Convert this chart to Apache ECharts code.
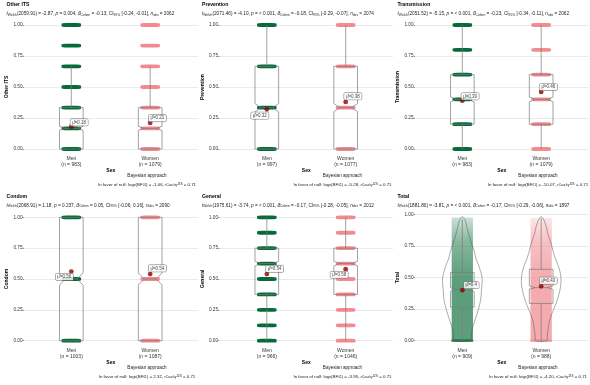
<!DOCTYPE html>
<html>
<head>
<meta charset="UTF-8">
<title>ggbetweenstats - Sex</title>
<script src="https://cdn.jsdelivr.net/npm/echarts@6/dist/echarts.min.js"></script>
<style>
html,body{margin:0;padding:0;background:#fff}
#main{width:590px;height:385px}
</style>
</head>
<body>
<div id="main"></div>
<script>
// ---- data ----
var panelNames = ['Other ITS', 'Prevention', 'Transmission', 'Condom', 'General', 'Total'];
var groups = ['Men', 'Women'];
var groupN = [[983, 1079], [997, 1077], [983, 1079], [1003, 1087], [966, 1046], [909, 988]];
var meanVals = [[0.18, 0.21], [0.32, 0.38], [0.39, 0.46], [0.56, 0.54], [0.54, 0.58], [0.4, 0.43]];
// [lower whisker, q1, median, q3, upper whisker]
var boxMen = [[0, 0, 1/6, 1/3, 2/3], [0, 0, 1/3, 2/3, 1], [0, 0.2, 0.4, 0.6, 1], [0, 0, 0.5, 1, 1], [0, 0.375, 0.625, 0.75, 1], [0, 0.265, 0.405, 0.54, 0.96]];
var boxWomen = [[0, 0, 1/6, 1/3, 2/3], [0, 0, 1/3, 2/3, 1], [0, 0.2, 0.4, 0.6, 1], [0, 0, 0.5, 1, 1], [0, 0.375, 0.625, 0.75, 1], [0, 0.295, 0.42, 0.565, 0.97]];
// answer levels where the jittered points pile up
var levelsOtherITS = [0, 1/6, 1/3, 1/2, 2/3, 5/6, 1];
var levelsPrevention = [0, 1/3, 2/3, 1];
var levelsTransmission = [0, 0.2, 0.4, 0.6, 0.8, 1];
var levelsCondom = [0, 0.5, 1];
var levelsGeneral = [0, 0.125, 0.25, 0.375, 0.5, 0.625, 0.75, 0.875, 1];
var levelsTotal = [0];
var panelLevels = [levelsOtherITS, levelsPrevention, levelsTransmission, levelsCondom, levelsGeneral, levelsTotal];
// Total: continuous cloud of points [low, high] per group
var totalCloud = [[0, 0.975], [0, 0.97]];
// Total: violin density (relative), at these y values
var violinY = [0, 0.05, 0.1, 0.15, 0.2, 0.25, 0.3, 0.35, 0.4, 0.45, 0.5, 0.55, 0.6, 0.65, 0.7, 0.75, 0.8, 0.85, 0.9, 0.95, 0.98];
var violinMen = [0.41, 0.46, 0.51, 0.62, 0.72, 0.82, 0.9, 0.95, 0.97, 1, 1, 0.92, 0.82, 0.69, 0.62, 0.51, 0.41, 0.31, 0.23, 0.15, 0.03];
var violinWomen = [0.28, 0.31, 0.36, 0.41, 0.51, 0.64, 0.77, 0.87, 0.95, 1, 1, 0.95, 0.85, 0.72, 0.62, 0.54, 0.44, 0.33, 0.26, 0.15, 0.03];
// test statistics
var tDf = ['2059.91', '2071.46', '2051.52', '2068.91', '1975.61', '1881.80'];
var tVal = ['-2.87', '-4.10', '-5.15', '1.18', '-3.74', '-3.81'];
var pTxt = ['0.004', '< 0.001', '< 0.001', '0.237', '< 0.001', '< 0.001'];
var dVal = ['-0.13', '-0.18', '-0.23', '0.05', '-0.17', '-0.17'];
var ciLo = ['-0.24', '-0.29', '-0.34', '-0.06', '-0.28', '-0.29'];
var ciHi = ['-0.01', '-0.07', '-0.11', '0.16', '-0.05', '-0.06'];
var nObs = ['2062', '2074', '2062', '2090', '2012', '1897'];
var logBF = ['-1.06', '-5.28', '-10.07', '2.32', '-3.95', '-4.20'];
var yTicks = ['0.00', '0.25', '0.50', '0.75', '1.00'];

// ---- layout / style ----
var FONT = '"Liberation Sans", Arial, Helvetica, sans-serif';
var colMen = '#066a3a', colWomen = '#f28a90';
var panelW = 173.5, colStep = 195.5;
// mean label offsets (px) from the mean dot
var meanLabelOffset = [
  [[7.8, -4.3], [7.2, -4.7]],
  [[-7, 6.3], [7.2, -5.6]],
  [[7.8, -4.3], [7.2, -5]],
  [[-7, 5.3], [7.2, -5.7]],
  [[7.8, -5.3], [-6.5, 5.7]],
  [[9, -5], [7.2, -5.7]]
];

var chart = echarts.init(document.getElementById('main'));

function renderBox(params, api) {
  var g = api.value(0);
  var lo = api.value(1), q1 = api.value(2), med = api.value(3), q3 = api.value(4), hi = api.value(5), n = api.value(6);
  var bw = api.size([1, 0])[0];
  var hw = bw * 0.15;
  var x = api.coord([g, med])[0];
  var notch = 1.58 * (q3 - q1) / Math.sqrt(n);
  function Y(v) { return api.coord([g, v])[1]; }
  var pts = [
    [x - hw, Y(q1)], [x - hw, Y(med - notch)], [x - hw / 2, Y(med)], [x - hw, Y(med + notch)], [x - hw, Y(q3)],
    [x + hw, Y(q3)], [x + hw, Y(med + notch)], [x + hw / 2, Y(med)], [x + hw, Y(med - notch)], [x + hw, Y(q1)]
  ];
  var st = { stroke: '#7a7a7a', lineWidth: 0.7, fill: null };
  return {
    type: 'group',
    children: [
      { type: 'line', shape: { x1: x, y1: Y(q3), x2: x, y2: Y(hi) }, style: st },
      { type: 'line', shape: { x1: x, y1: Y(q1), x2: x, y2: Y(lo) }, style: st },
      { type: 'polygon', shape: { points: pts }, style: st },
      { type: 'line', shape: { x1: x - hw / 2, y1: Y(med), x2: x + hw / 2, y2: Y(med) }, style: st }
    ]
  };
}

function renderViolin(params, api) {
  var g = api.value(0);
  var dens = g === 0 ? violinMen : violinWomen;
  var bw = api.size([1, 0])[0];
  var maxHalf = bw * 0.25;
  var x = api.coord([g, 0])[0];
  var lside = [], rside = [];
  for (var j = 0; j < violinY.length; j++) {
    var y = api.coord([g, violinY[j]])[1];
    lside.push([x - dens[j] * maxHalf, y]);
    rside.unshift([x + dens[j] * maxHalf, y]);
  }
  return {
    type: 'polygon',
    shape: { points: lside.concat(rside), smooth: 0.25 },
    style: { stroke: '#555', lineWidth: 0.5, fill: null }
  };
}

function renderCloud(params, api) {
  var g = api.value(0);
  var bw = api.size([1, 0])[0];
  var hw = bw * 0.135;
  var p0 = api.coord([g, api.value(2)]);
  var p1 = api.coord([g, api.value(1)]);
  var rgb = g === 0 ? '52,134,92' : '242,150,156';
  return {
    type: 'rect',
    shape: { x: p0[0] - hw, y: p0[1], width: hw * 2, height: p1[1] - p0[1] },
    style: {
      fill: new echarts.graphic.LinearGradient(0, 0, 0, 1, [
        { offset: 0, color: 'rgba(' + rgb + ',0.25)' },
        { offset: 0.2, color: 'rgba(' + rgb + ',0.6)' },
        { offset: 0.5, color: 'rgba(' + rgb + ',0.8)' },
        { offset: 1, color: 'rgba(' + rgb + ',0.8)' }
      ])
    }
  };
}

var grids = [], xAxes = [], yAxes = [], series = [], graphics = [];

function addPanel(i) {
  var col = i % 3, row = Math.floor(i / 3);
  var gridLeft = 24 + col * colStep;
  var gridTop = row === 0 ? 25 : 217.3;
  var h = row === 0 ? 124 : 123.4;
  if (i === 5) { gridTop = 214.3; h = 126.4; }
  var gA = 2 * i, gB = 2 * i + 1;
  grids.push({ left: gridLeft, top: gridTop, width: panelW, height: h });
  grids.push({ left: gridLeft + 7.9, top: gridTop, width: 157.7, height: h });

  xAxes.push({ gridIndex: gA, type: 'value', min: 0, max: 1, show: false });
  xAxes.push({
    gridIndex: gB, type: 'category', data: groups, offset: 6,
    axisLine: { show: false },
    axisTick: { show: true, alignWithLabel: true, length: 1.5, lineStyle: { color: '#333', width: 0.5 } },
    axisLabel: {
      margin: 1.2, fontSize: 5, lineHeight: 5.6, color: '#333', fontFamily: FONT,
      formatter: function (v, idx) { return v + '\n(n = ' + groupN[i][idx] + ')'; }
    },
    splitLine: { show: false }
  });
  yAxes.push({
    gridIndex: gA, type: 'value', min: 0, max: 1, interval: 0.25,
    name: panelNames[i], nameLocation: 'middle', nameGap: 14.5,
    nameTextStyle: { fontSize: 5, fontWeight: 'bold', color: '#000', fontFamily: FONT },
    axisLine: { show: false },
    axisTick: { show: true, length: 1.5, lineStyle: { color: '#333', width: 0.5 } },
    axisLabel: { margin: 1.5, fontSize: 4.7, color: '#333', fontFamily: FONT,
      formatter: function (v) { return yTicks[Math.round(v * 4)]; } },
    splitLine: { show: true, lineStyle: { color: '#e4e4e4', width: 0.8 } }
  });
  yAxes.push({ gridIndex: gB, type: 'value', min: 0, max: 1, show: false });

  // jittered points piled at each level
  var ptData = [];
  for (var g = 0; g < 2; g++) {
    for (var j = 0; j < panelLevels[i].length; j++) ptData.push([g, panelLevels[i][j]]);
  }
  if (i === 5) {
    series.push({
      type: 'custom', xAxisIndex: gB, yAxisIndex: gB, renderItem: renderCloud, silent: true, z: 1,
      data: [[0, totalCloud[0][0], totalCloud[0][1]], [1, totalCloud[1][0], totalCloud[1][1]]]
    });
  }
  series.push({
    type: 'scatter', xAxisIndex: gB, yAxisIndex: gB, silent: true, z: 2,
    symbol: 'roundRect', symbolSize: i === 5 ? [22, 2.8] : [19.5, 3.8],
    itemStyle: { color: function (p) { return p.data[0] === 0 ? colMen : colWomen; }, opacity: i === 5 ? 0.75 : 1 },
    data: ptData
  });
  if (i === 5) {
    series.push({
      type: 'custom', xAxisIndex: gB, yAxisIndex: gB, renderItem: renderViolin, silent: true, z: 3,
      data: [[0], [1]]
    });
  }
  series.push({
    type: 'custom', xAxisIndex: gB, yAxisIndex: gB, renderItem: renderBox, silent: true, z: 4,
    data: [[0].concat(boxMen[i], [groupN[i][0]]), [1].concat(boxWomen[i], [groupN[i][1]])]
  });
  var mData = [];
  for (var g2 = 0; g2 < 2; g2++) {
    mData.push({ value: [g2, meanVals[i][g2]], label: { offset: meanLabelOffset[i][g2] } });
  }
  series.push({
    type: 'scatter', xAxisIndex: gB, yAxisIndex: gB, silent: true, z: 5,
    symbolSize: 4.8, itemStyle: { color: '#8b0000' },
    label: {
      show: true, position: 'inside', fontSize: 4.5, color: '#111', fontFamily: FONT,
      backgroundColor: '#fff', borderColor: '#444', borderWidth: 0.45, borderRadius: 1,
      padding: [1, 1.8, 0.7, 1.8],
      formatter: function (p) { return '\u03bc\u0302=' + p.value[1]; }
    },
    data: mData
  });

  // titles and captions
  var px = col * colStep;
  var ty = row === 0 ? 5 : 196.5;
  graphics.push({ type: 'text', x: px + 6.5, y: ty, silent: true,
    style: { text: panelNames[i], fontSize: 5.1, fontWeight: 'bold', fontFamily: FONT, fill: '#000', verticalAlign: 'middle' } });
  graphics.push({ type: 'text', x: px + 6.5, y: ty + 8.8, silent: true,
    style: {
      text: '{i|t}{s|Welch}(' + tDf[i] + ') = ' + tVal[i] + ', {i|p} = ' + pTxt[i] + ', {i|d\u0302}{s|Cohen} = ' + dVal[i] +
        ', CI{s|95%} [' + ciLo[i] + ', ' + ciHi[i] + '], {i|n}{s|obs} = ' + nObs[i],
      fontSize: 4.7, fontFamily: FONT, fill: '#222', verticalAlign: 'middle',
      rich: { i: { fontStyle: 'italic', fontSize: 4.7, fontFamily: FONT }, s: { fontSize: 3.3, verticalAlign: 'bottom', fontFamily: FONT } }
    } });
  graphics.push({ type: 'text', x: gridLeft + panelW / 2, y: (row === 0 ? 171 : 362.5), silent: true,
    style: { text: 'Sex', fontSize: 5, fontWeight: 'bold', fontFamily: FONT, fill: '#000', align: 'center', verticalAlign: 'middle' } });
  graphics.push({ type: 'text', x: gridLeft + 123, y: (row === 0 ? 176 : 368), silent: true,
    style: { text: 'Bayesian approach', fontSize: 4.6, fontFamily: FONT, fill: '#222', align: 'center', verticalAlign: 'middle' } });
  graphics.push({ type: 'text', x: gridLeft + 123, y: (row === 0 ? 184.5 : 376.5), silent: true,
    style: {
      text: 'In favor of null: log{s|e}(BF{s|01}) = ' + logBF[i] + ', {i|r}{s|Cauchy}{p|JZS} = 0.71',
      fontSize: 4.4, fontFamily: FONT, fill: '#222', align: 'center', verticalAlign: 'middle',
      rich: { i: { fontStyle: 'italic', fontSize: 4.4, fontFamily: FONT }, s: { fontSize: 3.1, verticalAlign: 'bottom', fontFamily: FONT },
        p: { fontSize: 3.1, verticalAlign: 'top', fontFamily: FONT } }
    } });
}

for (var k = 0; k < 6; k++) addPanel(k);

chart.setOption({
  animation: false,
  backgroundColor: '#fff',
  textStyle: { fontFamily: FONT },
  grid: grids,
  xAxis: xAxes,
  yAxis: yAxes,
  series: series,
  graphic: graphics
});
</script>
</body>
</html>
